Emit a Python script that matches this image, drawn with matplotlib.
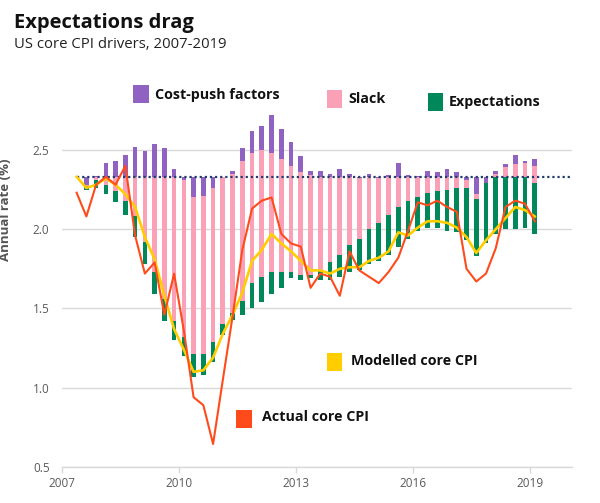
import numpy as np
import matplotlib
matplotlib.use("Agg")
import matplotlib.pyplot as plt
from matplotlib.patches import Rectangle

plt.rcParams["font.family"] = ["Open Sans", "DejaVu Sans"]

# quarterly levels (%); bars stack green -> pink -> purple
green_lo = [2.33, 2.244, 2.26, 2.22, 2.17, 2.09, 1.95, 1.78, 1.59, 1.42, 1.30, 1.20,
            1.07, 1.08, 1.16, 1.33, 1.43, 1.46, 1.50, 1.54, 1.59, 1.63, 1.69, 1.68,
            1.69, 1.68, 1.68, 1.70, 1.73, 1.74, 1.78, 1.80, 1.84, 1.89, 1.94, 1.99,
            2.01, 2.01, 1.99, 1.98, 1.93, 1.83, 1.91, 1.97, 2.00, 2.00, 2.01, 1.97]
green_hi = [2.33, 2.27, 2.31, 2.28, 2.24, 2.18, 2.08, 1.92, 1.73, 1.56, 1.42, 1.32,
            1.21, 1.21, 1.29, 1.40, 1.47, 1.55, 1.66, 1.70, 1.73, 1.73, 1.73, 1.71,
            1.71, 1.74, 1.79, 1.84, 1.90, 1.94, 2.00, 2.04, 2.09, 2.14, 2.18, 2.20,
            2.23, 2.24, 2.25, 2.26, 2.26, 2.19, 2.29, 2.33, 2.33, 2.33, 2.33, 2.29]
pink_hi = [2.33, 2.28, 2.33, 2.33, 2.33, 2.33, 2.33, 2.33, 2.33, 2.33, 2.33, 2.31,
           2.20, 2.21, 2.26, 2.327, 2.35, 2.43, 2.48, 2.50, 2.48, 2.44, 2.40, 2.36,
           2.34, 2.33, 2.33, 2.33, 2.33, 2.32, 2.33, 2.32, 2.33, 2.33, 2.33, 2.33,
           2.33, 2.33, 2.33, 2.33, 2.31, 2.22, 2.29, 2.35, 2.39, 2.41, 2.42, 2.40]
purple_hi = [2.33, 2.33, 2.335, 2.42, 2.43, 2.47, 2.52, 2.49, 2.54, 2.51, 2.38, 2.33,
             2.33, 2.33, 2.33, 2.33, 2.37, 2.51, 2.62, 2.65, 2.72, 2.63, 2.55, 2.46,
             2.37, 2.37, 2.35, 2.38, 2.35, 2.33, 2.35, 2.33, 2.34, 2.42, 2.34, 2.335,
             2.37, 2.36, 2.38, 2.36, 2.33, 2.33, 2.33, 2.37, 2.41, 2.47, 2.43, 2.44]

modelled = [2.33, 2.26, 2.28, 2.32, 2.28, 2.22, 2.14, 1.95, 1.81, 1.58, 1.37, 1.24,
            1.10, 1.11, 1.19, 1.34, 1.46, 1.60, 1.80, 1.87, 1.97, 1.91, 1.86, 1.80,
            1.74, 1.74, 1.72, 1.75, 1.76, 1.76, 1.80, 1.82, 1.86, 1.98, 1.96, 2.01,
            2.05, 2.05, 2.04, 2.01, 1.95, 1.85, 1.93, 2.00, 2.07, 2.14, 2.12, 2.08]
actual = [2.23, 2.08, 2.28, 2.33, 2.28, 2.40, 1.96, 1.72, 1.79, 1.46, 1.72, 1.36,
          0.94, 0.89, 0.645, 1.05, 1.45, 1.87, 2.13, 2.18, 2.20, 1.97, 1.91, 1.89,
          1.63, 1.72, 1.70, 1.58, 1.86, 1.74, 1.70, 1.66, 1.73, 1.82, 1.99, 2.17,
          2.15, 2.18, 2.14, 2.11, 1.75, 1.67, 1.72, 1.88, 2.14, 2.18, 2.16, 2.05]

baseline = 2.33
first_quarter = 2007.375
year_ticks = [2007, 2010, 2013, 2016, 2019]
rate_ticks = [0.5, 1.0, 1.5, 2.0, 2.5]

PURPLE = "#9063c2"
PINK = "#fba1b7"
GREEN = "#00875a"
YELLOW = "#ffcd00"
ORANGE = "#ff4b1c"
NAVY = "#233b6e"
GRID = "#d9d9d9"

W, H = 600, 503


def fx(px):
    return px / W


def fy(py):
    return 1 - py / H


green_lo = np.array(green_lo)
green_hi = np.array(green_hi)
pink_hi = np.array(pink_hi)
purple_hi = np.array(purple_hi)
x = first_quarter + 0.25 * np.arange(len(actual))

fig = plt.figure(figsize=(W / 100, H / 100), dpi=100)
ax = fig.add_axes([fx(62), fy(467), fx(572) - fx(62), fy(94.4) - fy(467)])

bw = 0.12
ax.bar(x, green_hi - green_lo, bottom=green_lo, width=bw, color=GREEN, zorder=2)
ax.bar(x, pink_hi - green_hi, bottom=green_hi, width=bw, color=PINK, zorder=2)
ax.bar(x, purple_hi - pink_hi, bottom=pink_hi, width=bw, color=PURPLE, zorder=2)

ax.plot([x[0], 2020.1], [baseline, baseline], color=NAVY, lw=1.6,
        linestyle=(0, (1, 1.3)), zorder=3)
ax.plot(x, modelled, color=YELLOW, lw=1.9, zorder=4)
ax.plot(x, actual, color=ORANGE, lw=1.5, zorder=5)

ax.set_xlim(2007, 2020.08)
ax.set_ylim(0.5, 2.85)
ax.set_xticks(year_ticks)
ax.set_xticklabels([str(t) for t in year_ticks])
ax.set_yticks(rate_ticks)
ax.set_yticklabels([f"{t:.1f}" for t in rate_ticks])
ax.tick_params(axis="x", length=4, width=1, color=GRID, pad=3, labelsize=8.5,
               labelcolor="#5a5a5a")
ax.tick_params(axis="y", length=0, pad=9, labelsize=8.5, labelcolor="#5a5a5a")
ax.grid(axis="y", color=GRID, lw=1, zorder=0)
for s in ["top", "right", "left"]:
    ax.spines[s].set_visible(False)
ax.spines["bottom"].set_color(GRID)
ax.spines["bottom"].set_linewidth(1)
ax.set_ylabel("Annual rate (%)", fontsize=9.5, fontweight="bold", color="#555555")
ax.yaxis.set_label_coords((12 - 62) / 510, (467 - 210) / (467 - 94.4))

fig.text(fx(14), fy(23), "Expectations drag", fontsize=14.5, fontweight="bold",
         va="center", ha="left", color="#111111")
fig.text(fx(14), fy(44), "US core CPI drivers, 2007-2019", fontsize=10.7,
         va="center", ha="left", color="#222222")

legend_items = [
    ("Cost-push factors", PURPLE, 140.5, 93.5, 155, 95),
    ("Slack", PINK, 334.5, 98.5, 348, 99),
    ("Expectations", GREEN, 435.5, 102, 449, 102),
    ("Modelled core CPI", YELLOW, 334.5, 361.5, 351, 361),
    ("Actual core CPI", ORANGE, 244, 418.5, 262, 417),
]
sq = 16
for label, col, cx, cy, tx, ty in legend_items:
    fig.add_artist(Rectangle((fx(cx - sq / 2), fy(cy + sq / 2 + 1)), fx(sq), fy(0) - fy(sq + 2),
                             transform=fig.transFigure, color=col, lw=0))
    fig.text(fx(tx), fy(ty), label, fontsize=10.3, fontweight="bold", va="center",
             ha="left", color="#111111")

fig.savefig("out.png", dpi=100)
